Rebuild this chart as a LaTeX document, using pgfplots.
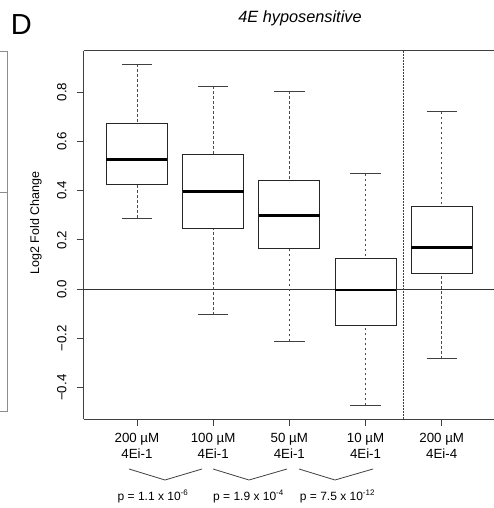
\documentclass[border=0pt]{standalone}
\usepackage{fontspec}
\setmainfont{Liberation Sans}
\usepackage{pgfplots}
\pgfplotsset{compat=1.18}
\usepgfplotslibrary{statistics}

\pgfplotsset{
  rbox/.style={black!85, line width=0.8pt, solid,
    boxplot/box extend=0.8, boxplot/whisker extend=0.4,
    boxplot/every median/.style={black, line width=2.6pt}},
  boxplot/draw/lower whisker/.code={%
    \draw[black!70, dash pattern=on 2.5pt off 2.5pt] (boxplot box cs:\pgfplotsboxplotvalue{lower whisker},0.5) -- (boxplot box cs:\pgfplotsboxplotvalue{lower quartile},0.5);
    \draw[black!75] (boxplot whisker cs:\pgfplotsboxplotvalue{lower whisker},0) -- (boxplot whisker cs:\pgfplotsboxplotvalue{lower whisker},1);
  },
  boxplot/draw/upper whisker/.code={%
    \draw[black!70, dash pattern=on 2.5pt off 2.5pt] (boxplot box cs:\pgfplotsboxplotvalue{upper whisker},0.5) -- (boxplot box cs:\pgfplotsboxplotvalue{upper quartile},0.5);
    \draw[black!75] (boxplot whisker cs:\pgfplotsboxplotvalue{upper whisker},0) -- (boxplot whisker cs:\pgfplotsboxplotvalue{upper whisker},1);
  },
}

\begin{document}
\begin{tikzpicture}[x=1pt,y=1pt]
\begin{axis}[
  scale only axis, width=411.5pt, height=368.3pt,
  xmin=0.3, xmax=5.7, ymin=-0.527, ymax=0.968,
  axis lines*=left,
  axis line style={-, black!75, line width=0.8pt},
  xtick={1,2,3,4,5},
  xticklabels={{200 µM\\4Ei-1},{100 µM\\4Ei-1},{50 µM\\4Ei-1},{10 µM\\4Ei-1},{200 µM\\4Ei-4}},
  ytick={-0.4,-0.2,0,0.2,0.4,0.6,0.8},
  yticklabels={−0.4,−0.2,0.0,0.2,0.4,0.6,0.8},
  tick align=outside, major tick length=7pt,
  xtick pos=bottom, ytick pos=left,
  tick style={black!75, line width=0.8pt},
  xticklabel style={font=\fontsize{13.3}{16.3}\selectfont, align=center, inner sep=0pt, anchor=north, yshift=-7pt},
  yticklabel style={font=\fontsize{13.3}{16}\selectfont, rotate=90, anchor=south, inner xsep=0pt, inner ysep=10pt},
  clip=false,
  boxplot/draw direction=y,
]
\coordinate (O) at (rel axis cs:0,0);
\draw[black!75, line width=0.8pt] (rel axis cs:0,1) -- (rel axis cs:1,1);
\addplot[black!80, line width=0.8pt] coordinates {(0.3,0) (5.7,0)};
\addplot[black!75, line width=0.8pt, dash pattern=on 1.8pt off 1.2pt] coordinates {(4.5,-0.527) (4.5,0.968)};
\addplot[rbox, boxplot prepared={draw position=1, lower whisker=0.289, lower quartile=0.424, median=0.527, upper quartile=0.671, upper whisker=0.913}] coordinates {};
\addplot[rbox, boxplot prepared={draw position=2, lower whisker=-0.103, lower quartile=0.245, median=0.396, upper quartile=0.546, upper whisker=0.823}] coordinates {};
\addplot[rbox, boxplot prepared={draw position=3, lower whisker=-0.211, lower quartile=0.165, median=0.300, upper quartile=0.443, upper whisker=0.804}] coordinates {};
\addplot[rbox, boxplot prepared={draw position=4, lower whisker=-0.472, lower quartile=-0.149, median=-0.004, upper quartile=0.126, upper whisker=0.468}] coordinates {};
\addplot[rbox, boxplot prepared={draw position=5, lower whisker=-0.282, lower quartile=0.065, median=0.169, upper quartile=0.337, upper whisker=0.720}] coordinates {};
\end{axis}
\begin{scope}[shift={(O)}, shift={(-83.6,-89)}]
% neighbour panel frame fragment
\draw[black!45, line width=0.8pt] (0,457) -- (7,457) -- (7,97) -- (0,97);
\draw[black!45, line width=0.8pt] (0,316) -- (7,316);
% panel letter, title, y label
\node[anchor=base west, inner sep=0pt, font=\fontsize{29}{32}\selectfont] at (10.7,473) {D};
\node[anchor=base, inner sep=0pt, font=\fontsize{16.3}{18}\selectfont\itshape] at (300,485.5) {4E hyposensitive};
\node[rotate=90, inner sep=0pt, font=\fontsize{12.5}{14}\selectfont] at (36,285) {Log2 Fold Change};
% brackets
\draw[black!75, line width=0.8pt] (129,39) -- (165,28) -- (202,39);
\draw[black!75, line width=0.8pt] (213,39) -- (249,28) -- (287,39);
\draw[black!75, line width=0.8pt] (299,39) -- (335,28) -- (373,39);
\node[anchor=base, inner sep=0pt, font=\fontsize{12}{14}\selectfont] at (153,8) {p = 1.1 x 10\textsuperscript{-6}};
\node[anchor=base, inner sep=0pt, font=\fontsize{12}{14}\selectfont] at (248.5,8) {p = 1.9 x 10\textsuperscript{-4}};
\node[anchor=base, inner sep=0pt, font=\fontsize{12}{14}\selectfont] at (337.5,8) {p = 7.5 x 10\textsuperscript{-12}};
\pgfresetboundingbox
\path[use as bounding box] (0,0) rectangle (494,508);
\end{scope}
\end{tikzpicture}
\end{document}
